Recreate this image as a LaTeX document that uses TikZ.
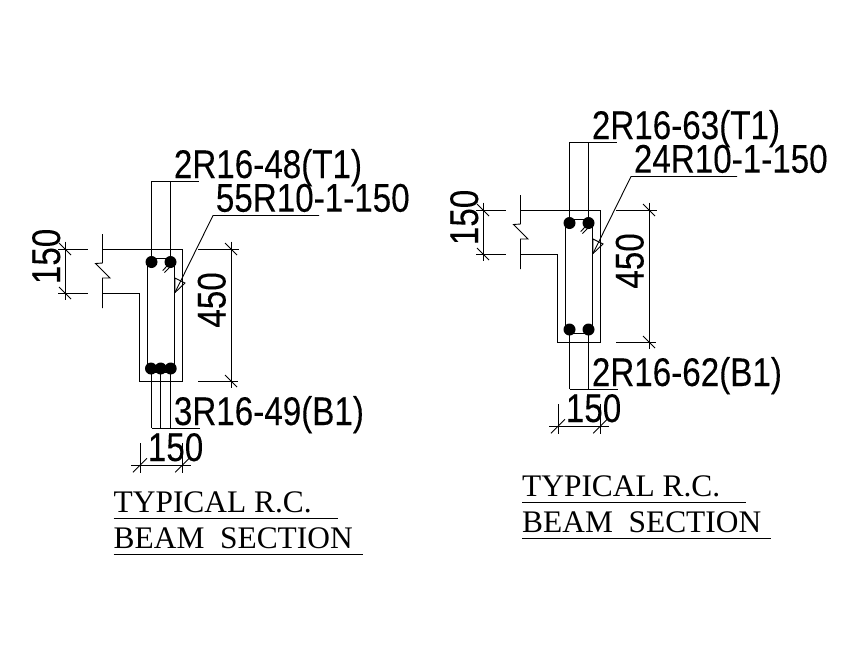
\documentclass[tikz,border=0pt]{standalone}
\usepackage{fontspec}
\setmainfont[FakeBold=.15]{Liberation Sans}
\newfontfamily\titlefont{Liberation Serif}
\tikzset{
  txt/.style={font=\fontsize{40}{40}\selectfont,inner sep=0pt,xscale=.83,transform shape},
  titletxt/.style={font=\titlefont\fontsize{31.4}{31.4}\selectfont,inner sep=0pt,anchor=base west},
  bar/.style={circle,fill=black,inner sep=0pt,minimum size=12pt},
  thin line/.style={line width=.9pt}
}
\newcommand{\tickA}[2]{\draw[thin line] (#1-6,#2-6) -- (#1+6,#2+6);}
\newcommand{\tickB}[2]{\draw[thin line] (#1-7,#2+7) -- (#1+7,#2-7);}
% #1 prefix, #2 x shift, #3 y shift, #4 top label, #5 stirrup label, #6 bottom label, #7 list of bottom bars
\newcommand{\beamsection}[7]{
  \begin{scope}[shift={(#2,#3)},thin line]
    % concrete outline
    \draw (102.5,234) -- (102.5,263) -- (95.5,263.5) -- (110,278) -- (102.5,278) -- (102.5,308);
    \draw (102.5,249) -- (182.5,249) -- (182.5,381) -- (139.8,381) -- (139.8,293) -- (102.5,293);
    % bars and stirrup
    \node[bar] (#1t1) at (151.5,262) {};
    \node[bar] (#1t2) at (170.5,262) {};
    \foreach \bx in {#7} {
      \node[bar] (#1b\bx) at (\bx,368.5) {};
      \draw (\bx,368.5) -- (\bx,428);
    }
    \draw (151.5,258) -- (170.5,258);
    \draw (151.5,372) -- (170.5,372);
    \draw (147.7,262) -- (147.7,368.5);
    \draw (174.3,262) -- (174.3,368.5);
    \draw (162.7,270.5) -- (169,264);
    \draw (164.5,272.5) -- (171,266);
    % bar leaders
    \coordinate (#1up) at (199,181);
    \draw (#1t1) |- (#1up);
    \draw (#1t2) -- (170.5,181);
    \draw (151.5,428) -- (199.5,428);
    % stirrup leader
    \coordinate (#1st) at (175,292.5);
    \draw (319,215.5) -- (213,215.5) -- (#1st);
    \draw (#1st) -- (175,278) -- (185,283) -- cycle;
    % dimensions
    \draw (58,249) -- (88,249);
    \draw (58,293) -- (88,293);
    \draw (65,241.5) -- (65,300);
    \tickA{65}{249}\tickA{65}{293}
    \draw (198,249) -- (239,249);
    \draw (198,381) -- (238,381);
    \draw (231,241.5) -- (231,388);
    \tickA{231}{249}\tickA{231}{381}
    \draw (131,465.3) -- (190.5,465.3);
    \draw (140,443) -- (140,472.5);
    \draw (182.3,443) -- (182.3,472.5);
    \tickB{140}{465.3}\tickB{182.3}{465.3}
    % labels
    \node[txt,anchor=base west] (#1lt) at (173.5,178) {#4};
    \node[txt,anchor=base west] (#1ls) at (215.5,211.7) {#5};
    \node[txt,anchor=base west] (#1lb) at (173.5,425) {#6};
    \node[txt,anchor=base west] (#1lw) at (147.5,461) {150};
    \node[rotate=90,txt,anchor=base west] (#1lf) at (60,284.5) {150};
    \node[rotate=90,txt,anchor=base west] (#1ld) at (225.5,328) {450};
  \end{scope}
}
% #1 prefix, #2 x, #3 y
\newcommand{\beamtitle}[3]{
  \node[titletxt] (#1a) at (#2,#3) {TYPICAL R.C.};
  \node[titletxt] (#1b) at (#2,#3+36.3) {BEAM\ \ SECTION};
  \draw[thin line] (#2,#3+6.6) -- (#2+224,#3+6.6);
  \draw[thin line] (#2,#3+42.6) -- (#2+249,#3+42.6);
}

\begin{document}
\begin{tikzpicture}[x=1pt,y=-1pt]
    \useasboundingbox (0,0) rectangle (863,662);
    \beamsection{L}{0}{0}{2R16-48(T1)}{55R10-1-150}{3R16-49(B1)}{151,160.7,170.7}
    \beamsection{R}{418}{-39}{2R16-63(T1)}{24R10-1-150}{2R16-62(B1)}{151.5,170.5}
    \beamtitle{TL}{113.5}{512}
    \beamtitle{TR}{522}{496}
\end{tikzpicture}
\end{document}
